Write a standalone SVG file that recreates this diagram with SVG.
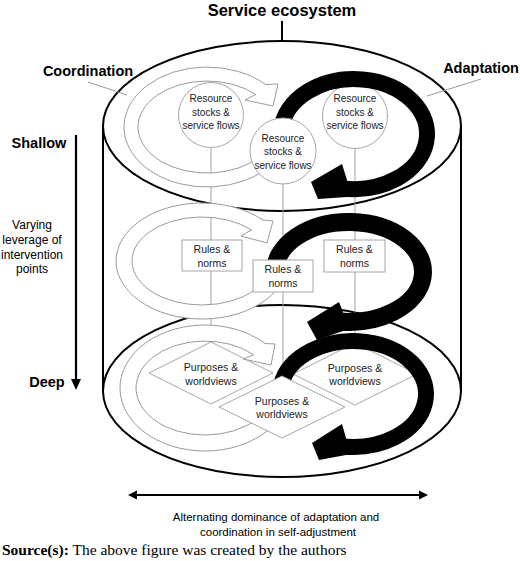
<svg xmlns="http://www.w3.org/2000/svg" width="520" height="561" viewBox="0 0 520 561">
<style>
.cyl{fill:none;stroke:#000;stroke-width:2}
.conn{stroke:#a3a3a3;stroke-width:1;fill:none}
.lead{stroke:#9a9a9a;stroke-width:1;fill:none}
.node{fill:#fff;stroke:#a6a6a6;stroke-width:1}
.nt{font-family:'Liberation Sans',Arial,sans-serif;font-size:10px;fill:#222;text-anchor:middle}
.nt2{font-family:'Liberation Sans',Arial,sans-serif;font-size:10.5px;fill:#222;text-anchor:middle}
.gring{fill:#fff;stroke:#9a9a9a;stroke-width:1}
.bring{fill:none;stroke:#000}
.head{fill:#000}
.lbl{font-family:'Liberation Sans',Arial,sans-serif;font-weight:bold;fill:#000}
.side{font-family:'Liberation Sans',Arial,sans-serif;font-size:12px;fill:#000;text-anchor:middle}
.cap{font-family:'Liberation Sans',Arial,sans-serif;font-size:11.5px;fill:#000;text-anchor:middle}
.axis{stroke:#000;stroke-width:2.2;fill:none}
</style>
<rect width="520" height="561" fill="#fff"/>

<g id="cylinder">
<ellipse class="cyl" cx="282" cy="126" rx="179" ry="85"/>
<ellipse class="cyl" cx="282" cy="391" rx="179" ry="86"/>
<line class="cyl" x1="103" y1="126" x2="103" y2="391"/>
<line class="cyl" x1="461" y1="126" x2="461" y2="391"/>
<line class="cyl" x1="282" y1="21" x2="282" y2="41"/>
</g>

<g id="labels">
<text class="lbl" x="282" y="16" font-size="16.5" text-anchor="middle">Service ecosystem</text>
<text class="lbl" x="88" y="76" font-size="14.5" text-anchor="middle">Coordination</text>
<line class="lead" x1="88" y1="82" x2="127" y2="95"/>
<text class="lbl" x="481" y="73" font-size="14.5" text-anchor="middle">Adaptation</text>
<line class="lead" x1="481" y1="79" x2="427" y2="96"/>
<text class="lbl" x="39" y="148" font-size="14.5" text-anchor="middle">Shallow</text>
<text class="lbl" x="47" y="387" font-size="14.5" text-anchor="middle">Deep</text>
<text class="side" x="32" y="229">Varying</text>
<text class="side" x="32" y="244">leverage of</text>
<text class="side" x="32" y="259">intervention</text>
<text class="side" x="32" y="273">points</text>
<text class="cap" x="276" y="521">Alternating dominance of adaptation and</text>
<text class="cap" x="278" y="536">coordination in self-adjustment</text>
<text x="2" y="555" font-family="'Liberation Serif','Times New Roman',serif" font-size="15.5" fill="#000"><tspan font-weight="bold">Source(s):</tspan> The above figure was created by the authors</text>
</g>

<g id="axes">
<line class="axis" x1="76" y1="135" x2="76" y2="382"/>
<path class="head" d="M71,379 L81,379 L76,390 Z"/>
<line class="axis" x1="132" y1="495" x2="424" y2="495"/>
<path class="head" d="M128,495 L137,490.5 L137,499.5 Z"/>
<path class="head" d="M428,495 L419,490.5 L419,499.5 Z"/>
</g>

<g id="connectors">
<line class="conn" x1="211" y1="147" x2="211" y2="342"/>
<line class="conn" x1="283" y1="184" x2="283" y2="376"/>
<line class="conn" x1="355" y1="148" x2="355" y2="343"/>
</g>

<g id="node-left-top">
<circle class="node" cx="211" cy="115" r="32.5"/>
<text class="nt" x="211" y="102">Resource</text>
<text class="nt" x="211" y="115.5">stocks &amp;</text>
<text class="nt" x="211" y="129">service flows</text>
</g>
<g id="node-right-top">
<circle class="node" cx="355" cy="116" r="32.5"/>
<text class="nt" x="355" y="102">Resource</text>
<text class="nt" x="355" y="115.5">stocks &amp;</text>
<text class="nt" x="355" y="129">service flows</text>
</g>
<g id="node-left-mid">
<rect class="node" x="182" y="240" width="60" height="31"/>
<text class="nt2" x="212" y="252.5">Rules &amp;</text>
<text class="nt2" x="212" y="266.5">norms</text>
</g>
<g id="node-right-mid">
<rect class="node" x="324" y="240" width="61" height="32"/>
<text class="nt2" x="354.5" y="252.5">Rules &amp;</text>
<text class="nt2" x="354.5" y="266.5">norms</text>
</g>
<g id="node-left-bottom">
<polygon class="node" points="149,373 211,342 273,373 211,404"/>
<text class="nt2" x="211" y="370.5">Purposes &amp;</text>
<text class="nt2" x="211" y="384.5">worldviews</text>
</g>
<g id="node-right-bottom">
<polygon class="node" points="293,374 355,343 417,374 355,405"/>
<text class="nt2" x="355" y="371.5">Purposes &amp;</text>
<text class="nt2" x="355" y="385">worldviews</text>
</g>

<g id="coordination-loops">
<path class="gring" d="M270.6,165.6 A83,60 0 1 1 265.7,84.6 L278,84 L273,106 L245,100 L255.8,94.5 A69,46 0 1 0 259.9,156.6 Z"/>
<path class="gring" d="M276.5,290 A86,58 0 1 1 262.8,220 L273,221 L267,243 L241,236 L251.5,229.9 A70,44 0 1 0 262.6,283 Z"/>
<path class="gring" d="M278.6,419.5 A85,63 0 1 1 265.1,343.5 L275,344 L271,365 L243,359 L253.8,354.8 A69,47 0 1 0 264.8,411.5 Z"/>
</g>

<g id="adaptation-loops">
<path class="bring" stroke-width="16" d="M281.3,129.2 A73,55 0 1 1 341.3,188.2"/>
<path class="head" d="M342,164 L311,182 L318,199 L347,197 L347,180 Z"/>
<path class="bring" stroke-width="18" d="M275,273.7 A74,50 0 1 1 336.2,321.2"/>
<path class="head" d="M339,302 L307,322 L317,340 L343,331 L343,312 Z"/>
<path class="bring" stroke-width="16" d="M281.1,384.8 A73,53 0 1 1 340.3,446.2"/>
<path class="head" d="M342,424 L312,443 L319,460 L346,455 L346,438 Z"/>
</g>

<g id="node-center-top">
<circle class="node" cx="283" cy="151" r="33"/>
<text class="nt" x="283" y="141.5">Resource</text>
<text class="nt" x="283" y="155">stocks &amp;</text>
<text class="nt" x="283" y="168.5">service flows</text>
</g>
<g id="node-center-mid">
<rect class="node" x="253" y="260" width="60" height="32"/>
<text class="nt2" x="283" y="272.5">Rules &amp;</text>
<text class="nt2" x="283" y="286.5">norms</text>
</g>
<g id="node-center-bottom">
<polygon class="node" points="219,407 282,376 345,407 282,438"/>
<text class="nt2" x="282" y="404.5">Purposes &amp;</text>
<text class="nt2" x="282" y="418">worldviews</text>
</g>
</svg>
